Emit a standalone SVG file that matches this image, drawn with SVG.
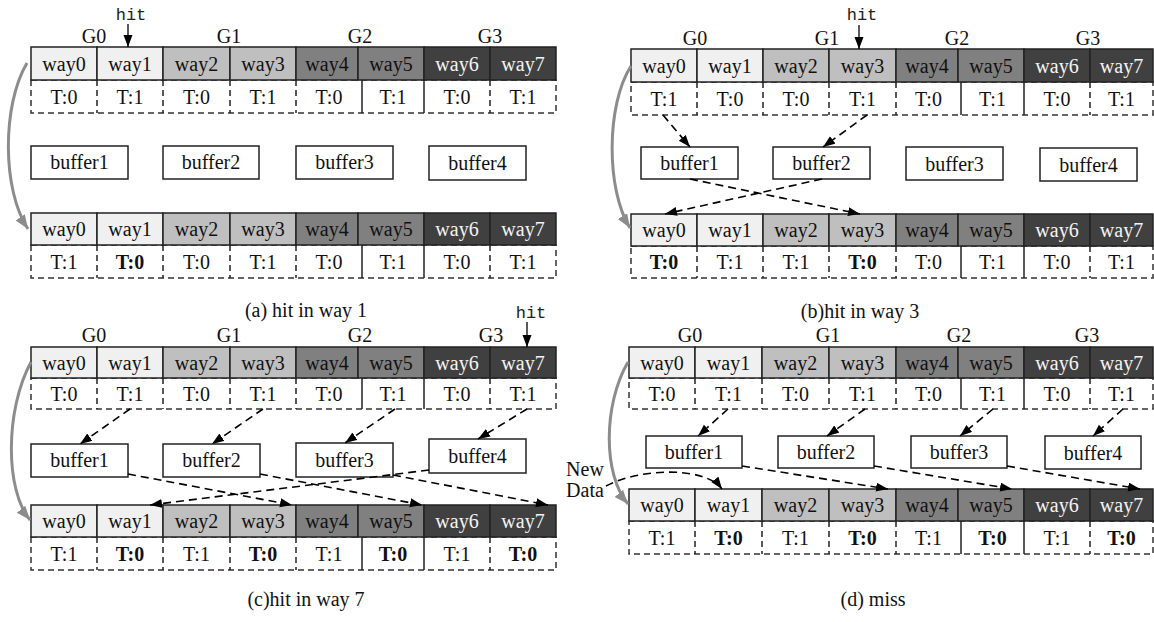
<svg xmlns="http://www.w3.org/2000/svg" width="1154" height="622" viewBox="0 0 1154 622">
  <style>
    text { font-family: "Liberation Serif", "Times New Roman", serif; font-size: 20px; text-anchor: middle; fill: #111; }
    .hit { font-family: "Liberation Mono", "Courier New", monospace; font-size: 17px; fill: #222; }
    .cap { font-size: 20px; }
    .lt { fill: #f4f4f4; }
    .b { font-weight: bold; }
    .c0 { fill: #f0f0f0; }
    .c1 { fill: #bfbfbf; }
    .c2 { fill: #808080; }
    .c3 { fill: #404040; }
    .cell rect { stroke: #222; stroke-width: 1.5; }
    .trow { fill: #fff; stroke: #333; stroke-width: 1.5; stroke-dasharray: 6 4; }
    .sep { stroke: #222; stroke-width: 1.5; stroke-dasharray: 6 4; }
    .sol { stroke: #222; stroke-width: 1.5; }
    .buf rect { fill: #fff; stroke: #222; stroke-width: 1.5; }
    .dash { fill: none; stroke: #000; stroke-width: 1.6; stroke-dasharray: 8 5; marker-end: url(#ah); }
    .hitl { fill: none; stroke: #000; stroke-width: 1.3; marker-end: url(#ah); }
    .gray { fill: none; stroke: #8c8c8c; stroke-width: 3; marker-end: url(#gh); }
  </style>
  <defs>
    <marker id="ah" markerUnits="userSpaceOnUse" markerWidth="13" markerHeight="10" refX="12" refY="4.5" orient="auto">
      <path d="M0,0 L12,4.5 L0,9 z" fill="#000"/>
    </marker>
    <marker id="gh" markerUnits="userSpaceOnUse" markerWidth="15" markerHeight="12" refX="14" refY="5.5" orient="auto">
      <path d="M0,0 L14,5.5 L0,11 z" fill="#8c8c8c"/>
    </marker>
  </defs>

  <!-- ===== (a) hit in way 1 ===== -->
  <g id="a-labels">
    <text x="94" y="43">G0</text><text x="229" y="43">G1</text><text x="360" y="43">G2</text><text x="490" y="43">G3</text>
    <text class="hit" x="131" y="20">hit</text>
  </g>
  <g id="a-top-tags">
    <rect class="trow" x="31" y="80" width="525" height="33"/>
    <line class="sep" x1="97" y1="80" x2="97" y2="113"/><line class="sep" x1="163" y1="80" x2="163" y2="113"/>
    <line class="sep" x1="230" y1="80" x2="230" y2="113"/><line class="sep" x1="296" y1="80" x2="296" y2="113"/>
    <line class="sol" x1="362" y1="80" x2="362" y2="113"/><line class="sol" x1="424" y1="80" x2="424" y2="113"/>
    <line class="sep" x1="490" y1="80" x2="490" y2="113"/>
    <text x="64" y="103.5">T:0</text><text x="130" y="103.5">T:1</text><text x="196.5" y="103.5">T:0</text><text x="263" y="103.5">T:1</text>
    <text x="329" y="103.5">T:0</text><text x="393" y="103.5">T:1</text><text x="457" y="103.5">T:0</text><text x="523" y="103.5">T:1</text>
  </g>
  <g id="a-top-ways" class="cell">
    <rect class="c0" x="31" y="47" width="66" height="33"/><rect class="c0" x="97" y="47" width="66" height="33"/>
    <rect class="c1" x="163" y="47" width="67" height="33"/><rect class="c1" x="230" y="47" width="66" height="33"/>
    <rect class="c2" x="296" y="47" width="62" height="33"/><rect class="c2" x="358" y="47" width="66" height="33"/>
    <rect class="c3" x="424" y="47" width="66" height="33"/><rect class="c3" x="490" y="47" width="66" height="33"/>
    <text x="64" y="70.5">way0</text><text x="130" y="70.5">way1</text><text x="196.5" y="70.5">way2</text><text x="263" y="70.5">way3</text>
    <text x="327" y="70.5">way4</text><text x="391" y="70.5">way5</text><text class="lt" x="457" y="70.5">way6</text><text class="lt" x="523" y="70.5">way7</text>
  </g>
  <g id="a-buffer1" class="buf"><rect x="31" y="146" width="97" height="33"/><text x="79.5" y="169">buffer1</text></g>
  <g id="a-buffer2" class="buf"><rect x="163" y="146" width="96" height="33"/><text x="211" y="169">buffer2</text></g>
  <g id="a-buffer3" class="buf"><rect x="296" y="146" width="97" height="33"/><text x="344.5" y="169">buffer3</text></g>
  <g id="a-buffer4" class="buf"><rect x="429" y="146" width="97" height="34"/><text x="477.5" y="170">buffer4</text></g>
  <g id="a-bottom-tags">
    <rect class="trow" x="31" y="245" width="525" height="33"/>
    <line class="sep" x1="97" y1="245" x2="97" y2="278"/><line class="sep" x1="163" y1="245" x2="163" y2="278"/>
    <line class="sep" x1="230" y1="245" x2="230" y2="278"/><line class="sep" x1="296" y1="245" x2="296" y2="278"/>
    <line class="sol" x1="362" y1="245" x2="362" y2="278"/><line class="sol" x1="424" y1="245" x2="424" y2="278"/>
    <line class="sep" x1="490" y1="245" x2="490" y2="278"/>
    <text x="64" y="268.5">T:1</text><text class="b" x="130" y="268.5">T:0</text><text x="196.5" y="268.5">T:0</text><text x="263" y="268.5">T:1</text>
    <text x="329" y="268.5">T:0</text><text x="393" y="268.5">T:1</text><text x="457" y="268.5">T:0</text><text x="523" y="268.5">T:1</text>
  </g>
  <g id="a-bottom-ways" class="cell">
    <rect class="c0" x="31" y="213" width="66" height="32"/><rect class="c0" x="97" y="213" width="66" height="32"/>
    <rect class="c1" x="163" y="213" width="67" height="32"/><rect class="c1" x="230" y="213" width="66" height="32"/>
    <rect class="c2" x="296" y="213" width="62" height="32"/><rect class="c2" x="358" y="213" width="66" height="32"/>
    <rect class="c3" x="424" y="213" width="66" height="32"/><rect class="c3" x="490" y="213" width="66" height="32"/>
    <text x="64" y="236">way0</text><text x="130" y="236">way1</text><text x="196.5" y="236">way2</text><text x="263" y="236">way3</text>
    <text x="327" y="236">way4</text><text x="391" y="236">way5</text><text class="lt" x="457" y="236">way6</text><text class="lt" x="523" y="236">way7</text>
  </g>
  <text class="cap" x="306" y="317">(a) hit in way 1</text>

  <!-- ===== (b) hit in way 3 ===== -->
  <g id="b-labels">
    <text x="695" y="45">G0</text><text x="827" y="45">G1</text><text x="957" y="45">G2</text><text x="1088" y="45">G3</text>
    <text class="hit" x="862" y="20">hit</text>
  </g>
  <g id="b-top-tags">
    <rect class="trow" x="631" y="82" width="522" height="33"/>
    <line class="sep" x1="697" y1="82" x2="697" y2="115"/><line class="sep" x1="763" y1="82" x2="763" y2="115"/>
    <line class="sep" x1="829" y1="82" x2="829" y2="115"/><line class="sep" x1="896" y1="82" x2="896" y2="115"/>
    <line class="sol" x1="961" y1="82" x2="961" y2="115"/><line class="sol" x1="1024" y1="82" x2="1024" y2="115"/>
    <line class="sep" x1="1090" y1="82" x2="1090" y2="115"/>
    <text x="664" y="105.5">T:1</text><text x="730" y="105.5">T:0</text><text x="796" y="105.5">T:0</text><text x="862.5" y="105.5">T:1</text>
    <text x="928.5" y="105.5">T:0</text><text x="992.5" y="105.5">T:1</text><text x="1057" y="105.5">T:0</text><text x="1121.5" y="105.5">T:1</text>
  </g>
  <g id="b-top-ways" class="cell">
    <rect class="c0" x="631" y="49" width="66" height="33"/><rect class="c0" x="697" y="49" width="66" height="33"/>
    <rect class="c1" x="763" y="49" width="66" height="33"/><rect class="c1" x="829" y="49" width="67" height="33"/>
    <rect class="c2" x="896" y="49" width="62" height="33"/><rect class="c2" x="958" y="49" width="66" height="33"/>
    <rect class="c3" x="1024" y="49" width="66" height="33"/><rect class="c3" x="1090" y="49" width="63" height="33"/>
    <text x="664" y="72.5">way0</text><text x="730" y="72.5">way1</text><text x="796" y="72.5">way2</text><text x="862.5" y="72.5">way3</text>
    <text x="927" y="72.5">way4</text><text x="991" y="72.5">way5</text><text class="lt" x="1057" y="72.5">way6</text><text class="lt" x="1121.5" y="72.5">way7</text>
  </g>
  <g id="b-buffer1" class="buf"><rect x="641" y="147" width="97" height="32"/><text x="689.5" y="170">buffer1</text></g>
  <g id="b-buffer2" class="buf"><rect x="773" y="147" width="97" height="32"/><text x="821.5" y="170">buffer2</text></g>
  <g id="b-buffer3" class="buf"><rect x="906" y="147" width="97" height="33"/><text x="954.5" y="170.5">buffer3</text></g>
  <g id="b-buffer4" class="buf"><rect x="1040" y="148" width="97" height="33"/><text x="1088.5" y="171.5">buffer4</text></g>
  <g id="b-bottom-tags">
    <rect class="trow" x="631" y="246" width="522" height="32"/>
    <line class="sep" x1="697" y1="246" x2="697" y2="278"/><line class="sep" x1="763" y1="246" x2="763" y2="278"/>
    <line class="sep" x1="829" y1="246" x2="829" y2="278"/><line class="sep" x1="896" y1="246" x2="896" y2="278"/>
    <line class="sol" x1="961" y1="246" x2="961" y2="278"/><line class="sol" x1="1024" y1="246" x2="1024" y2="278"/>
    <line class="sep" x1="1090" y1="246" x2="1090" y2="278"/>
    <text class="b" x="664" y="269">T:0</text><text x="730" y="269">T:1</text><text x="796" y="269">T:1</text><text class="b" x="862.5" y="269">T:0</text>
    <text x="928.5" y="269">T:0</text><text x="992.5" y="269">T:1</text><text x="1057" y="269">T:0</text><text x="1121.5" y="269">T:1</text>
  </g>
  <g id="b-bottom-ways" class="cell">
    <rect class="c0" x="631" y="214" width="66" height="32"/><rect class="c0" x="697" y="214" width="66" height="32"/>
    <rect class="c1" x="763" y="214" width="66" height="32"/><rect class="c1" x="829" y="214" width="67" height="32"/>
    <rect class="c2" x="896" y="214" width="62" height="32"/><rect class="c2" x="958" y="214" width="66" height="32"/>
    <rect class="c3" x="1024" y="214" width="66" height="32"/><rect class="c3" x="1090" y="214" width="63" height="32"/>
    <text x="664" y="237">way0</text><text x="730" y="237">way1</text><text x="796" y="237">way2</text><text x="862.5" y="237">way3</text>
    <text x="927" y="237">way4</text><text x="991" y="237">way5</text><text class="lt" x="1057" y="237">way6</text><text class="lt" x="1121.5" y="237">way7</text>
  </g>
  <text class="cap" x="860" y="318">(b)hit in way 3</text>

  <!-- ===== (c) hit in way 7 ===== -->
  <g id="c-labels">
    <text x="94" y="342">G0</text><text x="229" y="342">G1</text><text x="360" y="342">G2</text><text x="491" y="342">G3</text>
    <text class="hit" x="531" y="318">hit</text>
  </g>
  <g id="c-top-tags">
    <rect class="trow" x="31" y="378" width="525" height="31"/>
    <line class="sep" x1="97" y1="378" x2="97" y2="409"/><line class="sep" x1="163" y1="378" x2="163" y2="409"/>
    <line class="sep" x1="230" y1="378" x2="230" y2="409"/><line class="sep" x1="296" y1="378" x2="296" y2="409"/>
    <line class="sol" x1="362" y1="378" x2="362" y2="409"/><line class="sol" x1="424" y1="378" x2="424" y2="409"/>
    <line class="sep" x1="490" y1="378" x2="490" y2="409"/>
    <text x="64" y="400.5">T:0</text><text x="130" y="400.5">T:1</text><text x="196.5" y="400.5">T:0</text><text x="263" y="400.5">T:1</text>
    <text x="329" y="400.5">T:0</text><text x="393" y="400.5">T:1</text><text x="457" y="400.5">T:0</text><text x="523" y="400.5">T:1</text>
  </g>
  <g id="c-top-ways" class="cell">
    <rect class="c0" x="31" y="347" width="66" height="31"/><rect class="c0" x="97" y="347" width="66" height="31"/>
    <rect class="c1" x="163" y="347" width="67" height="31"/><rect class="c1" x="230" y="347" width="66" height="31"/>
    <rect class="c2" x="296" y="347" width="62" height="31"/><rect class="c2" x="358" y="347" width="66" height="31"/>
    <rect class="c3" x="424" y="347" width="66" height="31"/><rect class="c3" x="490" y="347" width="66" height="31"/>
    <text x="64" y="369.5">way0</text><text x="130" y="369.5">way1</text><text x="196.5" y="369.5">way2</text><text x="263" y="369.5">way3</text>
    <text x="327" y="369.5">way4</text><text x="391" y="369.5">way5</text><text class="lt" x="457" y="369.5">way6</text><text class="lt" x="523" y="369.5">way7</text>
  </g>
  <g id="c-buffer1" class="buf"><rect x="31" y="444" width="97" height="33"/><text x="79.5" y="467">buffer1</text></g>
  <g id="c-buffer2" class="buf"><rect x="163" y="444" width="97" height="33"/><text x="211.5" y="467">buffer2</text></g>
  <g id="c-buffer3" class="buf"><rect x="296" y="443" width="97" height="34"/><text x="344.5" y="467">buffer3</text></g>
  <g id="c-buffer4" class="buf"><rect x="429" y="439" width="97" height="34"/><text x="477.5" y="463">buffer4</text></g>
  <g id="c-bottom-tags">
    <rect class="trow" x="31" y="537" width="525" height="33"/>
    <line class="sep" x1="97" y1="537" x2="97" y2="570"/><line class="sep" x1="163" y1="537" x2="163" y2="570"/>
    <line class="sep" x1="230" y1="537" x2="230" y2="570"/><line class="sep" x1="296" y1="537" x2="296" y2="570"/>
    <line class="sol" x1="362" y1="537" x2="362" y2="570"/><line class="sol" x1="424" y1="537" x2="424" y2="570"/>
    <line class="sep" x1="490" y1="537" x2="490" y2="570"/>
    <text x="64" y="560.5">T:1</text><text class="b" x="130" y="560.5">T:0</text><text x="196.5" y="560.5">T:1</text><text class="b" x="263" y="560.5">T:0</text>
    <text x="329" y="560.5">T:1</text><text class="b" x="393" y="560.5">T:0</text><text x="457" y="560.5">T:1</text><text class="b" x="523" y="560.5">T:0</text>
  </g>
  <g id="c-bottom-ways" class="cell">
    <rect class="c0" x="31" y="505" width="66" height="32"/><rect class="c0" x="97" y="505" width="66" height="32"/>
    <rect class="c1" x="163" y="505" width="67" height="32"/><rect class="c1" x="230" y="505" width="66" height="32"/>
    <rect class="c2" x="296" y="505" width="62" height="32"/><rect class="c2" x="358" y="505" width="66" height="32"/>
    <rect class="c3" x="424" y="505" width="66" height="32"/><rect class="c3" x="490" y="505" width="66" height="32"/>
    <text x="64" y="528">way0</text><text x="130" y="528">way1</text><text x="196.5" y="528">way2</text><text x="263" y="528">way3</text>
    <text x="327" y="528">way4</text><text x="391" y="528">way5</text><text class="lt" x="457" y="528">way6</text><text class="lt" x="523" y="528">way7</text>
  </g>
  <text class="cap" x="306" y="606">(c)hit in way 7</text>

  <!-- ===== (d) miss ===== -->
  <g id="d-labels">
    <text x="690" y="342">G0</text><text x="828" y="342">G1</text><text x="959" y="342">G2</text><text x="1087" y="342">G3</text>
    <text x="585" y="476">New</text><text x="585" y="497">Data</text>
  </g>
  <g id="d-top-tags">
    <rect class="trow" x="629" y="378" width="524" height="31"/>
    <line class="sep" x1="695" y1="378" x2="695" y2="409"/><line class="sep" x1="762" y1="378" x2="762" y2="409"/>
    <line class="sep" x1="829" y1="378" x2="829" y2="409"/><line class="sep" x1="896" y1="378" x2="896" y2="409"/>
    <line class="sol" x1="961" y1="378" x2="961" y2="409"/><line class="sol" x1="1024" y1="378" x2="1024" y2="409"/>
    <line class="sep" x1="1090" y1="378" x2="1090" y2="409"/>
    <text x="662" y="400.5">T:0</text><text x="728.5" y="400.5">T:1</text><text x="795.5" y="400.5">T:0</text><text x="862.5" y="400.5">T:1</text>
    <text x="928.5" y="400.5">T:0</text><text x="992.5" y="400.5">T:1</text><text x="1057" y="400.5">T:0</text><text x="1121.5" y="400.5">T:1</text>
  </g>
  <g id="d-top-ways" class="cell">
    <rect class="c0" x="629" y="347" width="66" height="31"/><rect class="c0" x="695" y="347" width="67" height="31"/>
    <rect class="c1" x="762" y="347" width="67" height="31"/><rect class="c1" x="829" y="347" width="67" height="31"/>
    <rect class="c2" x="896" y="347" width="62" height="31"/><rect class="c2" x="958" y="347" width="66" height="31"/>
    <rect class="c3" x="1024" y="347" width="66" height="31"/><rect class="c3" x="1090" y="347" width="63" height="31"/>
    <text x="662" y="369.5">way0</text><text x="728.5" y="369.5">way1</text><text x="795.5" y="369.5">way2</text><text x="862.5" y="369.5">way3</text>
    <text x="927" y="369.5">way4</text><text x="991" y="369.5">way5</text><text class="lt" x="1057" y="369.5">way6</text><text class="lt" x="1121.5" y="369.5">way7</text>
  </g>
  <g id="d-buffer1" class="buf"><rect x="646" y="436" width="96" height="32"/><text x="694" y="459">buffer1</text></g>
  <g id="d-buffer2" class="buf"><rect x="778" y="436" width="96" height="32"/><text x="826" y="459">buffer2</text></g>
  <g id="d-buffer3" class="buf"><rect x="911" y="436" width="96" height="32"/><text x="959" y="459">buffer3</text></g>
  <g id="d-buffer4" class="buf"><rect x="1045" y="436" width="96" height="33"/><text x="1093" y="459.5">buffer4</text></g>
  <g id="d-bottom-tags">
    <rect class="trow" x="629" y="521" width="524" height="33"/>
    <line class="sep" x1="695" y1="521" x2="695" y2="554"/><line class="sep" x1="762" y1="521" x2="762" y2="554"/>
    <line class="sep" x1="829" y1="521" x2="829" y2="554"/><line class="sep" x1="896" y1="521" x2="896" y2="554"/>
    <line class="sol" x1="961" y1="521" x2="961" y2="554"/><line class="sol" x1="1024" y1="521" x2="1024" y2="554"/>
    <line class="sep" x1="1090" y1="521" x2="1090" y2="554"/>
    <text x="662" y="544.5">T:1</text><text class="b" x="728.5" y="544.5">T:0</text><text x="795.5" y="544.5">T:1</text><text class="b" x="862.5" y="544.5">T:0</text>
    <text x="928.5" y="544.5">T:1</text><text class="b" x="992.5" y="544.5">T:0</text><text x="1057" y="544.5">T:1</text><text class="b" x="1121.5" y="544.5">T:0</text>
  </g>
  <g id="d-bottom-ways" class="cell">
    <rect class="c0" x="629" y="489" width="66" height="32"/><rect class="c0" x="695" y="489" width="67" height="32"/>
    <rect class="c1" x="762" y="489" width="67" height="32"/><rect class="c1" x="829" y="489" width="67" height="32"/>
    <rect class="c2" x="896" y="489" width="62" height="32"/><rect class="c2" x="958" y="489" width="66" height="32"/>
    <rect class="c3" x="1024" y="489" width="66" height="32"/><rect class="c3" x="1090" y="489" width="63" height="32"/>
    <text x="662" y="512">way0</text><text x="728.5" y="512">way1</text><text x="795.5" y="512">way2</text><text x="862.5" y="512">way3</text>
    <text x="927" y="512">way4</text><text x="991" y="512">way5</text><text class="lt" x="1057" y="512">way6</text><text class="lt" x="1121.5" y="512">way7</text>
  </g>
  <text class="cap" x="873" y="606">(d) miss</text>

  <!-- ===== connectors ===== -->
  <g id="connectors">
    <!-- hit markers -->
    <path class="hitl" d="M128 24 L128 47"/>
    <path class="hitl" d="M859 25 L859 49"/>
    <path class="hitl" d="M527 322 L527 347"/>
    <!-- (a) order bits flip in place -->
    <path class="gray" d="M27 63 C2 105 2 190 28 229"/>
    <!-- (b) -->
    <path class="gray" d="M631 66 C606 105 606 190 630 228"/>
    <path class="dash" d="M663 115 L690 147"/>
    <path class="dash" d="M867 115 L823 147"/>
    <path class="dash" d="M690 179 L860 214"/>
    <path class="dash" d="M822 179 L665 214"/>
    <!-- (c) -->
    <path class="gray" d="M31 362 C5 410 5 490 30 520"/>
    <path class="dash" d="M130 409 L80 444"/>
    <path class="dash" d="M263 409 L212 444"/>
    <path class="dash" d="M395 409 L345 443"/>
    <path class="dash" d="M527 409 L478 439"/>
    <path class="dash" d="M128 474 L292 505"/>
    <path class="dash" d="M260 474 L422 505"/>
    <path class="dash" d="M393 475 L548 505"/>
    <path class="dash" d="M429 470 L150 505"/>
    <!-- (d) -->
    <path class="gray" d="M628 362 C603 405 603 475 628 504"/>
    <path class="dash" d="M728 409 L698 436"/>
    <path class="dash" d="M865 409 L827 436"/>
    <path class="dash" d="M993 409 L960 436"/>
    <path class="dash" d="M1123 409 L1093 436"/>
    <path class="dash" d="M742 466 L888 489"/>
    <path class="dash" d="M874 466 L1012 489"/>
    <path class="dash" d="M1007 466 L1140 489"/>
    <path class="dash" d="M606 486 C640 468 705 466 722 489"/>
  </g>
</svg>
